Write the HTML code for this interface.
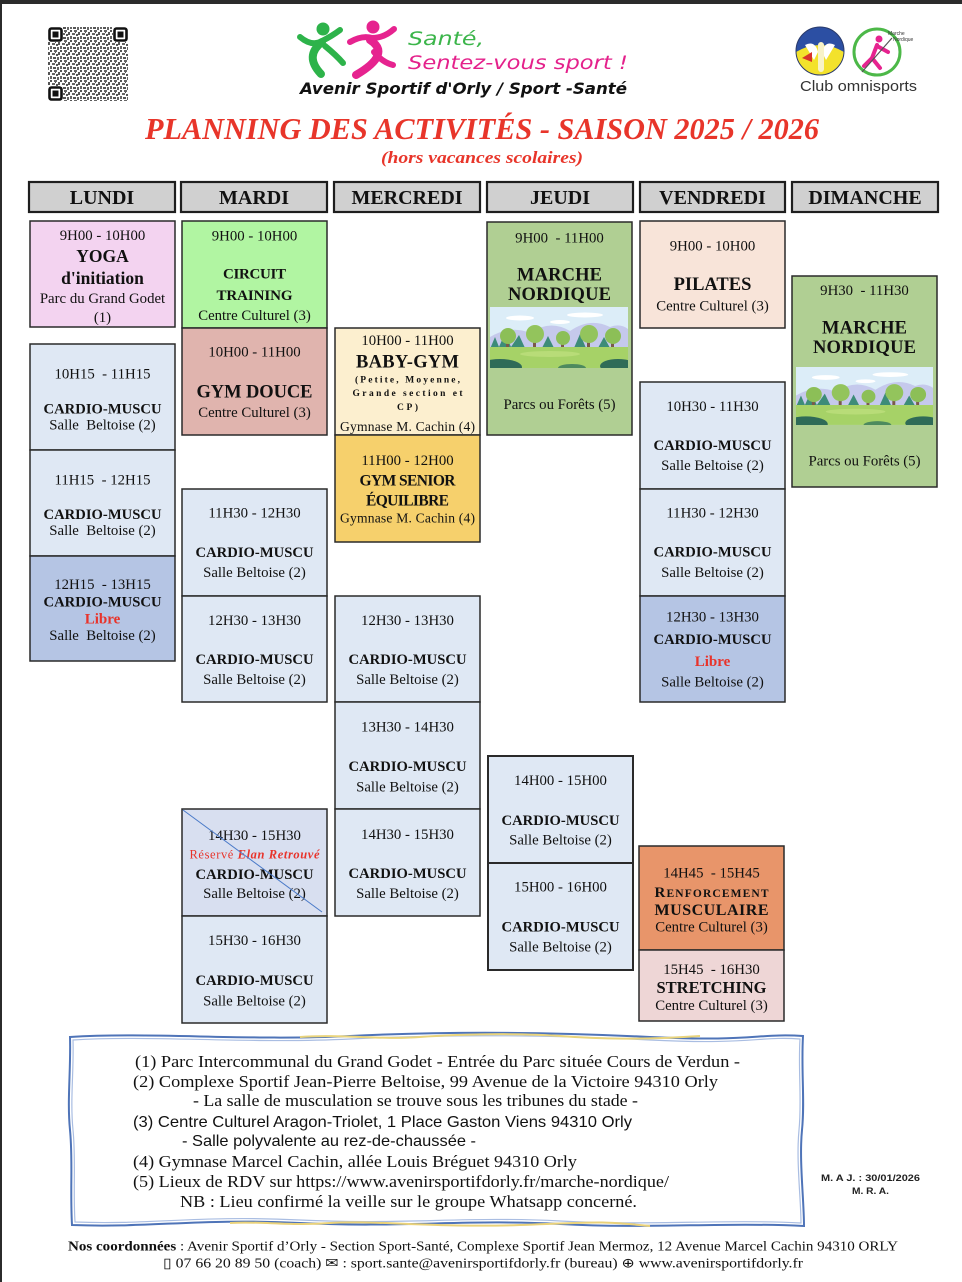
<!DOCTYPE html>
<html><head><meta charset="utf-8">
<style>
html,body{margin:0;padding:0;background:#fff;}
svg{display:block}
text{font-family:"Liberation Serif",serif;}
.t{font-size:14.8px;text-anchor:middle;fill:#111}
.s{font-size:13.6px;text-anchor:middle;fill:#111}
.c{font-size:14.6px;font-weight:bold;text-anchor:middle;fill:#111}
.h{font-size:20px;font-weight:bold;text-anchor:middle;fill:#111}
.big{font-size:18.5px;font-weight:bold;text-anchor:middle;fill:#111}
.lib{font-size:15px;font-weight:bold;text-anchor:middle;fill:#e8332a}
.bx{stroke:#2a2a2a;stroke-width:1.5}
.hd{fill:#d0d0d0;stroke:#1e1e1e;stroke-width:2.2}
.f{font-size:17px;fill:#111}
.fs{font-family:"Liberation Sans",sans-serif;font-size:16px;fill:#111}
</style></head><body>
<svg width="962" height="1282" viewBox="0 0 962 1282" xmlns="http://www.w3.org/2000/svg">
<defs>
<pattern id="qr" width="10" height="10" patternUnits="userSpaceOnUse">
<rect x="0" y="0" width="2" height="2" fill="#555"/><rect x="4" y="0" width="3" height="2" fill="#666"/>
<rect x="8" y="2" width="2" height="3" fill="#555"/><rect x="2" y="3" width="3" height="2" fill="#666"/>
<rect x="6" y="4" width="2" height="2" fill="#555"/><rect x="0" y="6" width="2" height="3" fill="#666"/>
<rect x="3" y="7" width="3" height="2" fill="#555"/><rect x="7" y="7" width="2" height="3" fill="#666"/>
<rect x="5" y="2" width="1" height="1" fill="#555"/>
</pattern>
<clipPath id="lc"><rect x="0" y="0" width="138" height="61"/></clipPath>
<g id="land" clip-path="url(#lc)">
<rect width="138" height="61" fill="#dcedf8"/>
<ellipse cx="30" cy="11" rx="14" ry="2.5" fill="#fff"/>
<ellipse cx="95" cy="8" rx="18" ry="2.5" fill="#fff"/>
<ellipse cx="70" cy="15" rx="10" ry="2" fill="#fff"/>
<path d="M0 30 Q20 18 40 26 Q60 12 80 24 Q100 10 120 20 Q130 16 138 22 V45 H0Z" fill="#c5c9ec"/>
<path d="M0 42 L5 30 L9 40 L15 26 L21 40 L29 28 L35 41 L52 41 L58 29 L64 41 L84 41 L90 27 L96 41 L108 41 L114 30 L120 41 L138 41 V46 H0Z" fill="#3d8c78"/>
<rect x="16" y="32" width="3" height="10" fill="#7a5a4a"/>
<rect x="43" y="30" width="3" height="12" fill="#7a5a4a"/>
<rect x="71" y="33" width="3" height="9" fill="#7a5a4a"/>
<rect x="97" y="30" width="3" height="12" fill="#7a5a4a"/>
<rect x="121" y="32" width="3" height="10" fill="#7a5a4a"/>
<circle cx="18" cy="29" r="8" fill="#8cbf57"/>
<circle cx="45" cy="27" r="9" fill="#93c45c"/>
<circle cx="73" cy="31" r="7" fill="#8cbf57"/>
<circle cx="99" cy="27" r="9" fill="#93c45c"/>
<circle cx="123" cy="29" r="8" fill="#8cbf57"/>
<rect y="40" width="138" height="21" fill="#a6d267"/>
<ellipse cx="60" cy="47" rx="30" ry="3" fill="#b8dc78"/>
<ellipse cx="10" cy="60" rx="22" ry="8" fill="#2f6b57"/>
<ellipse cx="128" cy="59" rx="18" ry="7" fill="#2f6b57"/>
<ellipse cx="82" cy="61" rx="14" ry="4" fill="#4d8a5e"/>
</g>
</defs>

<!-- page frame -->
<rect x="0" y="0" width="962" height="4" fill="#2b2b2b"/>
<rect x="0" y="0" width="2" height="1282" fill="#2b2b2b"/>

<!-- QR -->
<rect x="48" y="27" width="80" height="74" fill="url(#qr)"/>
<rect x="48" y="27" width="15" height="15" fill="#fff"/>
<rect x="49.5" y="28.5" width="12" height="12" rx="2" fill="none" stroke="#111" stroke-width="2.6"/>
<rect x="52.5" y="31.5" width="6" height="6" fill="#111"/>
<rect x="113" y="27" width="15" height="15" fill="#fff"/>
<rect x="114.5" y="28.5" width="12" height="12" rx="2" fill="none" stroke="#111" stroke-width="2.6"/>
<rect x="117.5" y="31.5" width="6" height="6" fill="#111"/>
<rect x="48" y="86" width="15" height="15" fill="#fff"/>
<rect x="49.5" y="87.5" width="12" height="12" rx="2" fill="none" stroke="#111" stroke-width="2.6"/>
<rect x="52.5" y="90.5" width="6" height="6" fill="#111"/>

<!-- center logo figures -->
<g stroke-linecap="round" fill="none">
<circle cx="323" cy="29" r="6.5" fill="#2db34a"/>
<path d="M300 37 Q312 47 322 41 Q332 36 340 30" stroke="#2db34a" stroke-width="6"/>
<path d="M322 42 Q304 56 321 74" stroke="#2db34a" stroke-width="8"/>
<path d="M325 46 Q336 55 343 63" stroke="#2db34a" stroke-width="6"/>
<circle cx="373" cy="27" r="6.5" fill="#e6238f"/>
<path d="M350 42 Q362 35 372 38 Q384 38 394 29" stroke="#e6238f" stroke-width="6"/>
<path d="M370 40 Q392 54 356 75" stroke="#e6238f" stroke-width="8"/>
<path d="M374 52 Q382 62 393 65" stroke="#e6238f" stroke-width="6"/>
</g>
<text x="408" y="45" font-size="19" fill="#3bb54a" textLength="76" lengthAdjust="spacingAndGlyphs" style="font-family:'DejaVu Sans',sans-serif;font-style:italic">Santé,</text>
<text x="408" y="69" font-size="19" fill="#e4218b" textLength="220" lengthAdjust="spacingAndGlyphs" style="font-family:'DejaVu Sans',sans-serif;font-style:italic">Sentez-vous sport !</text>
<text x="300" y="94" font-size="16" fill="#111" textLength="327" lengthAdjust="spacingAndGlyphs" style="font-family:'DejaVu Sans',sans-serif;font-style:italic;font-weight:bold">Avenir Sportif d'Orly / Sport -Santé</text>

<!-- right logos -->
<clipPath id="c1"><circle cx="820" cy="51" r="24"/></clipPath>
<g clip-path="url(#c1)">
<rect x="796" y="27" width="48" height="48" fill="#f3e22c"/>
<path d="M796 27 H844 V52 Q820 38 796 52Z" fill="#2c4fa3"/>
<path d="M805 45 Q815 40 818 52 L814 60 Z" fill="#fff"/>
<path d="M835 45 Q825 40 822 52 L826 60 Z" fill="#fff"/>
<rect x="818" y="42" width="6" height="30" rx="3" fill="#f8f3c8"/>
<path d="M802 58 L812 52 L812 62Z" fill="#d8332a"/>
</g>
<circle cx="820" cy="51" r="24" fill="none" stroke="#2a3a6a" stroke-width="1"/>
<circle cx="877" cy="52" r="23" fill="#fff" stroke="#4cb848" stroke-width="3"/>
<g stroke="#e6238f" stroke-width="4" stroke-linecap="round" fill="none">
<circle cx="879" cy="39" r="3.5" fill="#e6238f" stroke="none"/>
<path d="M877 45 L872 58 L880 68"/><path d="M877 46 L888 52"/><path d="M872 58 L864 66"/>
</g>
<path d="M862 72 L892 38" stroke="#555" stroke-width="1.2"/>
<text x="888" y="35" font-size="5" fill="#333" style="font-family:'Liberation Sans',sans-serif">Marche</text>
<text x="893" y="41" font-size="5" fill="#333" style="font-family:'Liberation Sans',sans-serif">Nordique</text>
<text x="800" y="91" font-size="14.5" fill="#333" textLength="117" lengthAdjust="spacingAndGlyphs" style="font-family:'Liberation Sans',sans-serif">Club omnisports</text>

<!-- title -->
<text x="145" y="139" font-size="31" font-weight="bold" font-style="italic" fill="#e8352a" textLength="674" lengthAdjust="spacingAndGlyphs">PLANNING DES ACTIVITÉS  -  SAISON 2025 / 2026</text>
<text x="381" y="163" font-size="17" font-weight="bold" font-style="italic" fill="#e8352a" textLength="202" lengthAdjust="spacingAndGlyphs">(hors vacances scolaires)</text>

<!-- day headers -->
<rect class="hd" x="29" y="182" width="146" height="30"/><text class="h" x="102" y="204">LUNDI</text>
<rect class="hd" x="181" y="182" width="146" height="30"/><text class="h" x="254" y="204">MARDI</text>
<rect class="hd" x="334" y="182" width="146" height="30"/><text class="h" x="407" y="204">MERCREDI</text>
<rect class="hd" x="487" y="182" width="146" height="30"/><text class="h" x="560" y="204">JEUDI</text>
<rect class="hd" x="640" y="182" width="145" height="30"/><text class="h" x="712.5" y="204">VENDREDI</text>
<rect class="hd" x="792" y="182" width="146" height="30"/><text class="h" x="865" y="204">DIMANCHE</text>

<!-- LUNDI -->
<rect class="bx" x="30" y="221" width="145" height="106" fill="#f3d3f0"/>
<text class="t" x="102.5" y="240">9H00 - 10H00</text>
<text class="big" x="102.5" y="262" style="font-size:17.5px">YOGA</text>
<text class="big" x="102.5" y="284" style="font-size:17.5px">d'initiation</text>
<text class="t" x="102.5" y="303">Parc du Grand Godet</text>
<text class="t" x="102.5" y="322">(1)</text>

<rect class="bx" x="30" y="344" width="145" height="106" fill="#dfe8f4"/>
<text class="t" x="102.5" y="378.5" xml:space="preserve">10H15  - 11H15</text>
<text class="c" x="102.5" y="413.5" textLength="118">CARDIO-MUSCU</text>
<text class="t" x="102.5" y="429.5" xml:space="preserve">Salle  Beltoise (2)</text>

<rect class="bx" x="30" y="450" width="145" height="106" fill="#dfe8f4"/>
<text class="t" x="102.5" y="484.5" xml:space="preserve">11H15  - 12H15</text>
<text class="c" x="102.5" y="519" textLength="118">CARDIO-MUSCU</text>
<text class="t" x="102.5" y="535" xml:space="preserve">Salle  Beltoise (2)</text>

<rect class="bx" x="30" y="556" width="145" height="105" fill="#b5c5e4"/>
<text class="t" x="102.5" y="589" xml:space="preserve">12H15  - 13H15</text>
<text class="c" x="102.5" y="606.5" textLength="118">CARDIO-MUSCU</text>
<text class="lib" x="102.5" y="623.5">Libre</text>
<text class="t" x="102.5" y="640" xml:space="preserve">Salle  Beltoise (2)</text>

<!-- MARDI -->
<rect class="bx" x="182" y="221" width="145" height="107" fill="#b1f5a2"/>
<text class="t" x="254.5" y="240.5">9H00 - 10H00</text>
<text class="c" x="254.5" y="278.5" style="font-size:15px" textLength="63">CIRCUIT</text>
<text class="c" x="254.5" y="300" style="font-size:15px" textLength="76">TRAINING</text>
<text class="t" x="254.5" y="320">Centre Culturel (3)</text>

<rect class="bx" x="182" y="328" width="145" height="107" fill="#e0b4ae"/>
<text class="t" x="254.5" y="356.5">10H00 - 11H00</text>
<text class="big" x="254.5" y="397.5" textLength="116">GYM DOUCE</text>
<text class="t" x="254.5" y="417">Centre Culturel (3)</text>

<rect class="bx" x="182" y="489" width="145" height="107" fill="#dfe8f4"/>
<text class="t" x="254.5" y="517.5">11H30 - 12H30</text>
<text class="c" x="254.5" y="557" textLength="118">CARDIO-MUSCU</text>
<text class="t" x="254.5" y="577">Salle Beltoise (2)</text>

<rect class="bx" x="182" y="596" width="145" height="106" fill="#dfe8f4"/>
<text class="t" x="254.5" y="625">12H30 - 13H30</text>
<text class="c" x="254.5" y="664" textLength="118">CARDIO-MUSCU</text>
<text class="t" x="254.5" y="684">Salle Beltoise (2)</text>

<rect class="bx" x="182" y="809" width="145" height="107" fill="#d8dff0"/>
<text class="t" x="254.5" y="840">14H30 - 15H30</text>
<text x="254.5" y="858.5" font-size="12.5" fill="#e8332a" text-anchor="middle" textLength="130">Réservé <tspan font-weight="bold" font-style="italic">Elan Retrouvé</tspan></text>
<text class="c" x="254.5" y="879" textLength="118">CARDIO-MUSCU</text>
<text class="t" x="254.5" y="898">Salle Beltoise (2)</text>
<line x1="183" y1="810" x2="322" y2="912" stroke="#4a7ac8" stroke-width="1"/>

<rect class="bx" x="182" y="916" width="145" height="107" fill="#dfe8f4"/>
<text class="t" x="254.5" y="945">15H30 - 16H30</text>
<text class="c" x="254.5" y="985" textLength="118">CARDIO-MUSCU</text>
<text class="t" x="254.5" y="1005.5">Salle Beltoise (2)</text>

<!-- MERCREDI -->
<rect class="bx" x="335" y="328" width="145" height="107" fill="#fcefcf"/>
<text class="t" x="407.5" y="345">10H00 - 11H00</text>
<text class="big" x="407.5" y="367.5" textLength="103">BABY-GYM</text>
<text x="407.5" y="382.5" font-size="9.5" font-weight="bold" text-anchor="middle" fill="#111" textLength="105" lengthAdjust="spacing">(Petite, Moyenne,</text>
<text x="407.5" y="396" font-size="9.5" font-weight="bold" text-anchor="middle" fill="#111" textLength="110" lengthAdjust="spacing">Grande section et</text>
<text x="407.5" y="410" font-size="9.5" font-weight="bold" text-anchor="middle" fill="#111" textLength="21" lengthAdjust="spacing">CP)</text>
<text class="s" x="407.5" y="431" textLength="135">Gymnase M. Cachin (4)</text>

<rect class="bx" x="335" y="435" width="145" height="107" fill="#f6d06c"/>
<text class="t" x="407.5" y="465">11H00 - 12H00</text>
<text class="c" x="407.5" y="485.5" style="font-size:15.5px" textLength="96">GYM SENIOR</text>
<text class="c" x="407.5" y="505.5" style="font-size:15.5px" textLength="83">ÉQUILIBRE</text>
<text class="s" x="407.5" y="522.5" textLength="135">Gymnase M. Cachin (4)</text>

<rect class="bx" x="335" y="596" width="145" height="106" fill="#dfe8f4"/>
<text class="t" x="407.5" y="625">12H30 - 13H30</text>
<text class="c" x="407.5" y="664" textLength="118">CARDIO-MUSCU</text>
<text class="t" x="407.5" y="684">Salle Beltoise (2)</text>

<rect class="bx" x="335" y="702" width="145" height="107" fill="#dfe8f4"/>
<text class="t" x="407.5" y="731.5">13H30 - 14H30</text>
<text class="c" x="407.5" y="771" textLength="118">CARDIO-MUSCU</text>
<text class="t" x="407.5" y="791.5">Salle Beltoise (2)</text>

<rect class="bx" x="335" y="809" width="145" height="107" fill="#dfe8f4"/>
<text class="t" x="407.5" y="839">14H30 - 15H30</text>
<text class="c" x="407.5" y="878" textLength="118">CARDIO-MUSCU</text>
<text class="t" x="407.5" y="898">Salle Beltoise (2)</text>

<!-- JEUDI -->
<rect class="bx" x="487" y="222" width="145" height="213" fill="#b0cf93"/>
<text class="t" x="559.5" y="242.5" xml:space="preserve">9H00  - 11H00</text>
<text class="big" x="559.5" y="280.5" textLength="85">MARCHE</text>
<text class="big" x="559.5" y="300" textLength="103">NORDIQUE</text>
<use href="#land" transform="translate(490,307)"/>
<text class="t" x="559.5" y="409" textLength="112">Parcs ou Forêts (5)</text>

<rect class="bx" x="488" y="756" width="145" height="107" fill="#dfe8f4" style="stroke-width:2"/>
<text class="t" x="560.5" y="785">14H00 - 15H00</text>
<text class="c" x="560.5" y="825" textLength="118">CARDIO-MUSCU</text>
<text class="t" x="560.5" y="844.5">Salle Beltoise (2)</text>

<rect class="bx" x="488" y="863" width="145" height="107" fill="#dfe8f4" style="stroke-width:2"/>
<text class="t" x="560.5" y="891.5">15H00 - 16H00</text>
<text class="c" x="560.5" y="931.5" textLength="118">CARDIO-MUSCU</text>
<text class="t" x="560.5" y="951.5">Salle Beltoise (2)</text>

<!-- VENDREDI -->
<rect class="bx" x="640" y="221" width="145" height="107" fill="#f8e4d9"/>
<text class="t" x="712.5" y="250.5">9H00 - 10H00</text>
<text class="big" x="712.5" y="290">PILATES</text>
<text class="t" x="712.5" y="310.5">Centre Culturel (3)</text>

<rect class="bx" x="640" y="382" width="145" height="107" fill="#dfe8f4"/>
<text class="t" x="712.5" y="411">10H30 - 11H30</text>
<text class="c" x="712.5" y="450" textLength="118">CARDIO-MUSCU</text>
<text class="t" x="712.5" y="470">Salle Beltoise (2)</text>

<rect class="bx" x="640" y="489" width="145" height="107" fill="#dfe8f4"/>
<text class="t" x="712.5" y="517.5">11H30 - 12H30</text>
<text class="c" x="712.5" y="556.5" textLength="118">CARDIO-MUSCU</text>
<text class="t" x="712.5" y="577">Salle Beltoise (2)</text>

<rect class="bx" x="640" y="596" width="145" height="106" fill="#b5c5e4"/>
<text class="t" x="712.5" y="621.5">12H30 - 13H30</text>
<text class="c" x="712.5" y="644" textLength="118">CARDIO-MUSCU</text>
<text class="lib" x="712.5" y="666">Libre</text>
<text class="t" x="712.5" y="686.5">Salle Beltoise (2)</text>

<rect class="bx" x="639" y="846" width="145" height="104" fill="#e8956a"/>
<text class="t" x="711.5" y="877.5" xml:space="preserve">14H45  - 15H45</text>
<text x="711.5" y="897" font-weight="bold" text-anchor="middle" fill="#111" textLength="114"><tspan font-size="15">R</tspan><tspan font-size="11.5">ENFORCEMENT</tspan></text>
<text class="c" x="711.5" y="915" style="font-size:16px" textLength="114">MUSCULAIRE</text>
<text class="t" x="711.5" y="931.5">Centre Culturel (3)</text>

<rect class="bx" x="639" y="950" width="145" height="71" fill="#eed6d6"/>
<text class="t" x="711.5" y="974" xml:space="preserve">15H45  - 16H30</text>
<text class="c" x="711.5" y="993" style="font-size:16.5px" textLength="110">STRETCHING</text>
<text class="t" x="711.5" y="1010">Centre Culturel (3)</text>

<!-- DIMANCHE -->
<rect class="bx" x="792" y="276" width="145" height="211" fill="#b0cf93"/>
<text class="t" x="864.5" y="295" xml:space="preserve">9H30  - 11H30</text>
<text class="big" x="864.5" y="333.5" textLength="85">MARCHE</text>
<text class="big" x="864.5" y="353" textLength="103">NORDIQUE</text>
<use href="#land" transform="translate(796,367) scale(0.993,0.95)"/>
<text class="t" x="864.5" y="465.5" textLength="112">Parcs ou Forêts (5)</text>

<!-- footer box -->
<path d="M70 1037 C150 1032 250 1041 350 1036 S550 1032 650 1037 S760 1033 803 1036 C801 1070 805 1100 802 1130 S804 1200 804 1226 C720 1222 650 1229 560 1224 S400 1228 300 1223 S150 1228 72 1225 C70 1190 73 1160 70 1130 S71 1070 70 1037Z" fill="none" stroke="#4f74b8" stroke-width="2"/>
<path d="M73 1040 C150 1035 250 1044 350 1039 S550 1035 650 1040 S760 1036 800 1039 C798 1070 802 1100 799 1130 S801 1200 801 1223 C720 1219 650 1226 560 1221 S400 1225 300 1220 S150 1225 75 1222 C73 1190 76 1160 73 1130 S74 1070 73 1040Z" fill="none" stroke="#a9bde2" stroke-width="1.2"/>
<path d="M300 1037 C340 1034 380 1040 420 1037 S520 1033 560 1036 S640 1040 700 1036" fill="none" stroke="#e9d47c" stroke-width="2"/>
<path d="M230 1223 C260 1221 290 1226 330 1223 S440 1228 520 1225 S600 1221 650 1226" fill="none" stroke="#ead27a" stroke-width="2"/>

<text class="f" x="135" y="1067" textLength="605" lengthAdjust="spacingAndGlyphs">(1) Parc Intercommunal du Grand Godet - Entrée du Parc située Cours de Verdun -</text>
<text class="f" x="133" y="1087" textLength="585" lengthAdjust="spacingAndGlyphs">(2) Complexe Sportif Jean-Pierre Beltoise, 99 Avenue de la Victoire 94310 Orly</text>
<text class="f" x="193" y="1106" textLength="445" lengthAdjust="spacingAndGlyphs">- La salle de musculation  se trouve sous les tribunes du stade -</text>
<text class="fs" x="133" y="1127" textLength="499" lengthAdjust="spacingAndGlyphs">(3) Centre Culturel Aragon-Triolet, 1 Place Gaston Viens 94310 Orly</text>
<text class="fs" x="182" y="1146" textLength="294" lengthAdjust="spacingAndGlyphs">- Salle polyvalente au rez-de-chaussée -</text>
<text class="f" x="133" y="1167" textLength="444" lengthAdjust="spacingAndGlyphs">(4) Gymnase Marcel Cachin, allée Louis Bréguet 94310 Orly</text>
<text class="f" x="133" y="1187" textLength="536" lengthAdjust="spacingAndGlyphs">(5) Lieux de RDV sur https://www.avenirsportifdorly.fr/marche-nordique/</text>
<text class="f" x="180" y="1207" textLength="457" lengthAdjust="spacingAndGlyphs">NB : Lieu confirmé la veille  sur le  groupe Whatsapp concerné.</text>

<text x="821" y="1181" font-size="9" font-weight="bold" fill="#222" textLength="99" lengthAdjust="spacingAndGlyphs" style="font-family:'Liberation Sans',sans-serif">M. A J. : 30/01/2026</text>
<text x="852" y="1194" font-size="9" font-weight="bold" fill="#222" textLength="37" lengthAdjust="spacingAndGlyphs" style="font-family:'Liberation Sans',sans-serif">M. R. A.</text>

<text x="68" y="1250.5" font-size="13.5" fill="#111" textLength="830" lengthAdjust="spacingAndGlyphs"><tspan font-weight="bold">Nos coordonnées</tspan> : Avenir Sportif d’Orly - Section Sport-Santé, Complexe Sportif Jean Mermoz, 12 Avenue Marcel Cachin  94310 ORLY</text>
<text x="163" y="1267.5" font-size="13.5" fill="#111" textLength="640" lengthAdjust="spacingAndGlyphs" style="font-family:'Liberation Serif','DejaVu Sans',serif">▯ 07 66 20 89 50 (coach)    ✉ : sport.sante@avenirsportifdorly.fr (bureau)    ⊕ www.avenirsportifdorly.fr</text>
</svg>
</body></html>
